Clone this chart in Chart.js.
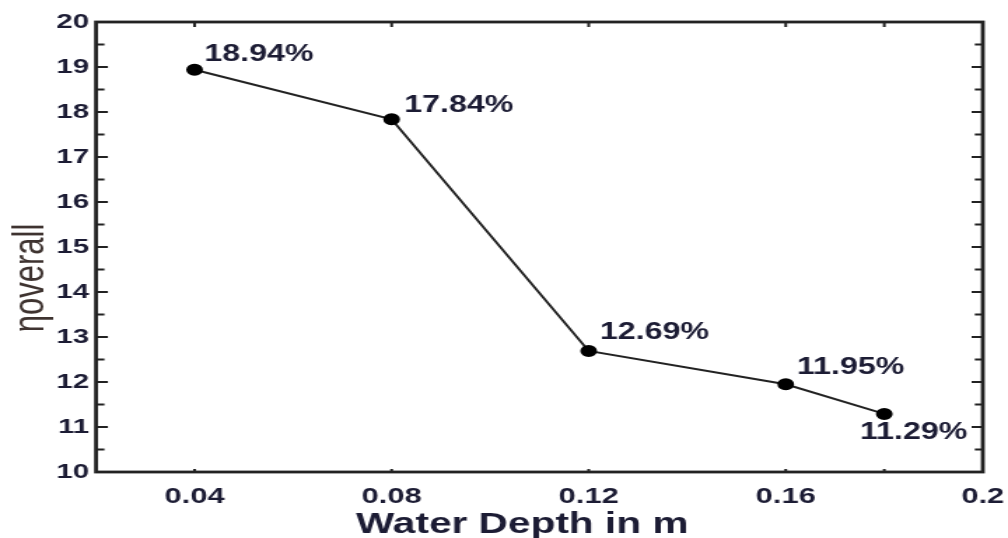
<!DOCTYPE html>
<html><head><meta charset="utf-8">
<script src="https://cdn.jsdelivr.net/npm/chart.js@4.4.0/dist/chart.umd.min.js"></script>
<style>
html,body{margin:0;padding:0;background:#fff;overflow:hidden}
</style>
</head><body>
<canvas id="c" width="720" height="538" style="display:block;width:1008px;height:538px"></canvas>
<script>
// ---- data ----
const depths = [0.04, 0.08, 0.12, 0.16, 0.18];
const efficiency = [18.94, 17.84, 12.69, 11.95, 11.29];
const pointLabels = ['18.94%', '17.84%', '12.69%', '11.95%', '11.29%'];
const xTickValues = [0.04, 0.08, 0.12, 0.16, 0.2];
const xTickLabels = ['0.04', '0.08', '0.12', '0.16', '0.2'];
const xTickMarks = [0.04, 0.08, 0.12, 0.16, 0.18];
const yTickValues = [10, 11, 12, 13, 14, 15, 16, 17, 18, 19, 20];
const yMinorTicks = [10.5, 11.5, 12.5, 13.5, 14.5, 15.5, 16.5, 17.5, 18.5, 19.5];
const xTitle = 'Water Depth in m';
const yTitle = 'ηoverall';

const textColor = '#1c1c34';
const fontFam = '"Liberation Sans", Arial, sans-serif';

const decor = {
  id: 'decor',
  afterDatasetsDraw(chart) {
    const ctx = chart.ctx;
    const a = chart.chartArea;
    const xs = chart.scales.x, ys = chart.scales.y;
    ctx.save();
    // frame
    ctx.strokeStyle = '#222';
    ctx.lineWidth = 2.8;
    ctx.strokeRect(a.left, a.top, a.right - a.left, a.bottom - a.top);
    ctx.lineWidth = 2;
    ctx.beginPath();
    // y major / minor ticks (left & right, inward)
    yTickValues.forEach(v => {
      const y = ys.getPixelForValue(v);
      ctx.moveTo(a.left, y); ctx.lineTo(a.left + 8.5, y);
      ctx.moveTo(a.right, y); ctx.lineTo(a.right - 8, y);
    });
    yMinorTicks.forEach(v => {
      const y = ys.getPixelForValue(v);
      ctx.moveTo(a.left, y); ctx.lineTo(a.left + 6, y);
      ctx.moveTo(a.right, y); ctx.lineTo(a.right - 5.7, y);
    });
    ctx.stroke();
    ctx.lineWidth = 2;
    ctx.beginPath();
    xTickMarks.forEach(v => {
      const x = xs.getPixelForValue(v);
      ctx.moveTo(x, a.bottom); ctx.lineTo(x, a.bottom - 3);
      ctx.moveTo(x, a.top); ctx.lineTo(x, a.top + 5);
    });
    ctx.stroke();

    // point labels
    const offs = [[7, -15, 'left'], [9, -14, 'left'], [8, -18, 'left'], [8, -17, 'left'], [21, 19, 'center']];
    ctx.fillStyle = textColor;
    ctx.font = 'bold 23px ' + fontFam;
    ctx.textBaseline = 'middle';
    const meta = chart.getDatasetMeta(0);
    meta.data.forEach((pt, i) => {
      const o = offs[i];
      ctx.textAlign = o[2];
      ctx.fillText(pointLabels[i], pt.x + o[0], pt.y + o[1]);
    });

    // x title
    ctx.font = 'bold 29px ' + fontFam;
    ctx.textAlign = 'center';
    ctx.textBaseline = 'alphabetic';
    ctx.fillText(xTitle, 373, 533);

    // y title
    ctx.translate(22, 278);
    ctx.rotate(-Math.PI / 2);
    ctx.fillStyle = '#3e3330';
    ctx.font = '31px ' + fontFam;
    ctx.textAlign = 'center';
    ctx.textBaseline = 'middle';
    ctx.fillText(yTitle, 0, 0);
    ctx.restore();
  }
};

new Chart(document.getElementById('c'), {
  type: 'scatter',
  data: {
    datasets: [{
      data: depths.map((d, i) => ({ x: d, y: efficiency[i] })),
      showLine: true,
      borderColor: '#222',
      borderWidth: 2,
      backgroundColor: '#000',
      pointBackgroundColor: '#000',
      pointBorderColor: '#000',
      pointRadius: 5,
      tension: 0
    }]
  },
  options: {
    responsive: false,
    devicePixelRatio: 1,
    animation: false,
    events: [],
    layout: { padding: { left: 0, top: 22, right: 18, bottom: 0 } },
    plugins: { legend: { display: false }, tooltip: { enabled: false } },
    scales: {
      x: {
        type: 'linear',
        min: 0.02, max: 0.2,
        afterBuildTicks: s => { s.ticks = xTickValues.map(v => ({ value: v })); },
        afterFit: s => { s.height = 66; s.paddingRight = 0; s.paddingLeft = 0; },
        grid: { display: false, drawTicks: false },
        border: { display: false },
        ticks: {
          padding: 12,
          color: textColor,
          font: { family: fontFam, size: 22, weight: 'bold' },
          callback: (v, i) => xTickLabels[i],
          maxRotation: 0, autoSkip: false
        }
      },
      y: {
        min: 10, max: 20,
        afterBuildTicks: s => { s.ticks = yTickValues.map(v => ({ value: v })); },
        afterFit: s => { s.width = 68.6; s.paddingTop = 0; s.paddingBottom = 0; },
        grid: { display: false, drawTicks: false },
        border: { display: false },
        ticks: {
          padding: 5,
          color: textColor,
          font: { family: fontFam, size: 21, weight: 'bold' },
          callback: v => String(v)
        }
      }
    }
  },
  plugins: [decor]
});
</script>
</body></html>
